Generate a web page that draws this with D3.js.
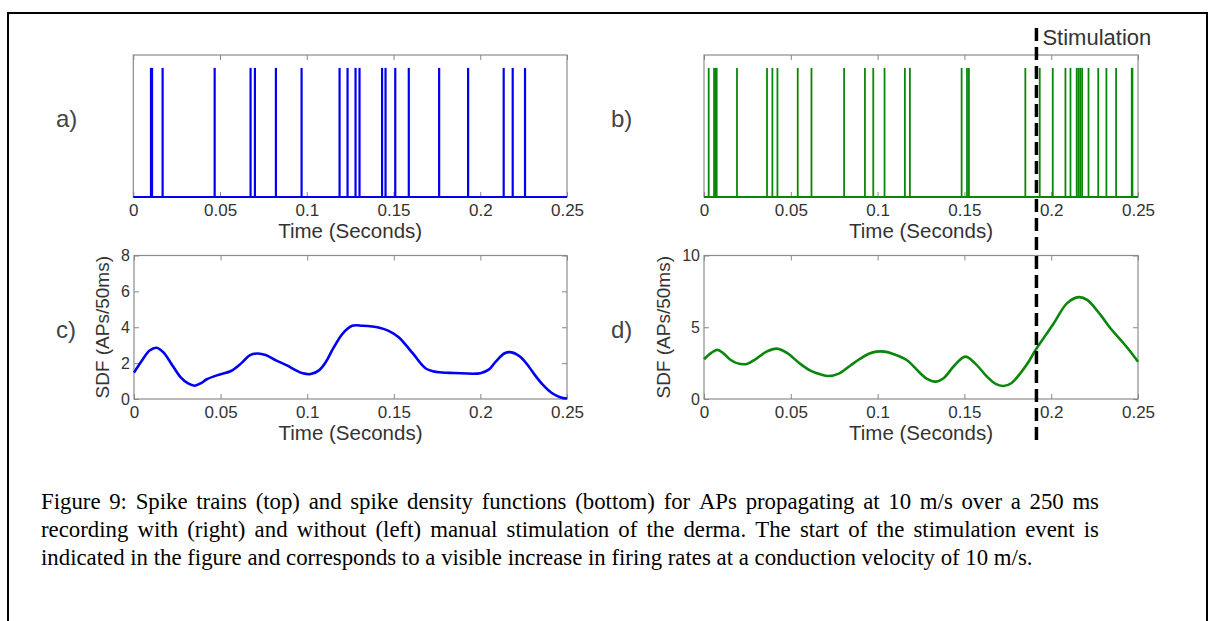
<!DOCTYPE html>
<html>
<head>
<meta charset="utf-8">
<script src="https://cdn.jsdelivr.net/npm/d3@7"></script>
<style>
	html, body { margin: 0; padding: 0; background: #fff; }
	svg { display: block; }
	.tick text { font-family: "Liberation Sans", Arial, sans-serif; fill: #333; }
	.tick line { stroke: #888; }
</style>
</head>
<body>
<svg id="fig" width="1217" height="621"></svg>
<script>
'use strict';

// spike times (seconds), read off panels a) and b)
var spikesA = [0.0102, 0.0108, 0.0169, 0.0469, 0.0676, 0.0701, 0.0822, 0.0970,
	0.1189, 0.1235, 0.1281, 0.1304, 0.1434, 0.1454, 0.1510, 0.1588,
	0.1763, 0.1930, 0.2135, 0.2187, 0.2258];

var spikesB = [0.0027, 0.0058, 0.0067, 0.0073, 0.0190, 0.0363, 0.0394, 0.0423,
	0.0540, 0.0619, 0.0807, 0.0927, 0.0975, 0.1040, 0.1157, 0.1186,
	0.1484, 0.1515, 0.1526, 0.1851, 0.1934, 0.2009, 0.2082, 0.2111,
	0.2147, 0.2157, 0.2167, 0.2178, 0.2215, 0.2271, 0.2318, 0.2374,
	0.2464, 0.2468];

// spike density functions, panels c) and d)
var sdfTimeC = [0, 0.005, 0.009, 0.013, 0.017, 0.022, 0.027, 0.031, 0.035, 0.039,
	0.042, 0.0495, 0.056, 0.062, 0.067, 0.0716, 0.076, 0.082, 0.088, 0.0935,
	0.0975, 0.102, 0.107, 0.111, 0.115, 0.1205, 0.126, 0.132, 0.1417, 0.147,
	0.153, 0.157, 0.161, 0.1685, 0.175, 0.185, 0.2, 0.205, 0.209, 0.214,
	0.218, 0.223, 0.228, 0.2315, 0.236, 0.241, 0.246, 0.25];
var sdfValC = [1.47, 2.2, 2.7, 2.86, 2.6, 1.9, 1.2, 0.88, 0.74, 0.9,
	1.1, 1.37, 1.56, 2.0, 2.45, 2.54, 2.45, 2.15, 1.89, 1.6,
	1.43, 1.39, 1.61, 2.1, 2.82, 3.65, 4.08, 4.08, 3.97, 3.8,
	3.43, 3.0, 2.54, 1.7, 1.5, 1.45, 1.44, 1.65, 2.1, 2.55,
	2.6, 2.35, 1.8, 1.33, 0.8, 0.35, 0.1, 0.03];

var sdfTimeD = [0, 0.004, 0.0077, 0.011, 0.015, 0.019, 0.0246, 0.03, 0.036, 0.042,
	0.048, 0.055, 0.061, 0.067, 0.0716, 0.078, 0.084, 0.0898, 0.095, 0.0994,
	0.104, 0.109, 0.1167, 0.1246, 0.1285, 0.1332, 0.138, 0.144, 0.1505, 0.156,
	0.163, 0.168, 0.1726, 0.177, 0.1822, 0.187, 0.191, 0.1965, 0.2015, 0.2092,
	0.2159, 0.2207, 0.2284, 0.234, 0.24, 0.245, 0.25];
var sdfValD = [2.77, 3.2, 3.42, 3.2, 2.75, 2.5, 2.44, 2.8, 3.3, 3.51,
	3.2, 2.49, 2.0, 1.72, 1.6, 1.79, 2.3, 2.79, 3.15, 3.3,
	3.3, 3.14, 2.72, 1.79, 1.4, 1.21, 1.45, 2.3, 2.95, 2.5,
	1.56, 1.05, 0.91, 1.1, 1.79, 2.6, 3.42, 4.4, 5.28, 6.68,
	7.1, 6.91, 5.86, 4.95, 4.12, 3.4, 2.6];

var timeTicks  = [0, 0.05, 0.1, 0.15, 0.2, 0.25];
var sdfTicksC  = [0, 2, 4, 6, 8];
var sdfTicksD  = [0, 5, 10];
var stimTime   = 0.1915;

var captionLines = [
	'Figure 9:  Spike trains (top) and spike density functions (bottom) for APs propagating at 10 m/s over a 250 ms',
	'recording with (right) and without (left) manual stimulation of the derma. The start of the stimulation event is',
	'indicated in the figure and corresponds to a visible increase in firing rates at a conduction velocity of 10 m/s.'
];

var BLUE  = '#0000f0';
var GREEN = '#0a870a';
var BOX   = '#8c8c8c';
var SANS  = '"Liberation Sans", Arial, sans-serif';

var svg = d3.select('#fig');

// outer frame
svg.append('path')
	.attr('d', 'M8,621 V13 H1207 V621')
	.attr('fill', 'none')
	.attr('stroke', '#000')
	.attr('stroke-width', 2);

function makePanel(box, yMax) {
	var x = d3.scaleLinear().domain([0, 0.25]).range([box.x0, box.x1]);
	var y = d3.scaleLinear().domain([0, yMax]).range([box.y1, box.y0]);
	var g = svg.append('g');

	g.append('rect')
		.attr('x', box.x0).attr('y', box.y0)
		.attr('width', box.x1 - box.x0).attr('height', box.y1 - box.y0)
		.attr('fill', 'none').attr('stroke', BOX).attr('stroke-width', 1.2);

	return { x: x, y: y, g: g, box: box };
}

function timeAxes(p, labelY) {
	var fmt = function (d) { return d3.format('~g')(d); };

	p.g.append('g')
		.attr('transform', 'translate(0,' + p.box.y1 + ')')
		.call(d3.axisBottom(p.x).tickValues(timeTicks).tickSize(-5).tickPadding(7).tickFormat(fmt))
		.call(function (a) {
			a.select('.domain').remove();
			a.selectAll('text').attr('font-size', 17).attr('font-family', SANS);
		});

	p.g.append('g')
		.attr('transform', 'translate(0,' + p.box.y0 + ')')
		.call(d3.axisTop(p.x).tickValues(timeTicks).tickSize(-5).tickFormat(''))
		.call(function (a) { a.select('.domain').remove(); });

	p.g.append('text')
		.attr('x', (p.box.x0 + p.box.x1) / 2)
		.attr('y', labelY)
		.attr('text-anchor', 'middle')
		.attr('font-family', SANS)
		.attr('font-size', 20.5)
		.attr('fill', '#333')
		.text('Time (Seconds)');
}

function sdfAxes(p, ticks, labelX) {
	p.g.append('g')
		.attr('transform', 'translate(' + p.box.x0 + ',0)')
		.call(d3.axisLeft(p.y).tickValues(ticks).tickSize(-5).tickPadding(4))
		.call(function (a) {
			a.select('.domain').remove();
			a.selectAll('text').attr('font-size', 16).attr('font-family', SANS);
		});

	p.g.append('g')
		.attr('transform', 'translate(' + p.box.x1 + ',0)')
		.call(d3.axisRight(p.y).tickValues(ticks).tickSize(-5).tickFormat(''))
		.call(function (a) { a.select('.domain').remove(); });

	var cy = (p.box.y0 + p.box.y1) / 2;

	p.g.append('text')
		.attr('transform', 'translate(' + labelX + ',' + cy + ') rotate(-90)')
		.attr('text-anchor', 'middle')
		.attr('font-family', SANS)
		.attr('font-size', 19)
		.attr('fill', '#333')
		.text('SDF (APs/50ms)');
}

function drawSpikes(p, times, colour, width) {
	p.g.append('line')
		.attr('x1', p.x(0)).attr('x2', p.x(0.25))
		.attr('y1', p.y(0)).attr('y2', p.y(0))
		.attr('stroke', colour).attr('stroke-width', 2);

	p.g.selectAll('.spike').data(times)
		.enter().append('line')
		.attr('class', 'spike')
		.attr('x1', function (d) { return p.x(d); })
		.attr('x2', function (d) { return p.x(d); })
		.attr('y1', p.y(0))
		.attr('y2', p.y(1))
		.attr('stroke', colour)
		.attr('stroke-width', width);
}

function drawSdf(p, ts, vs, colour) {
	var pts = ts.map(function (t, i) { return [t, vs[i]]; });
	var line = d3.line()
		.x(function (d) { return p.x(d[0]); })
		.y(function (d) { return p.y(d[1]); })
		.curve(d3.curveCatmullRom.alpha(0.5));

	p.g.append('path')
		.datum(pts)
		.attr('d', line)
		.attr('fill', 'none')
		.attr('stroke', colour)
		.attr('stroke-width', 2.6)
		.attr('stroke-linejoin', 'round');
}

function panelLabel(text, x, y) {
	svg.append('text')
		.attr('x', x).attr('y', y)
		.attr('font-family', SANS)
		.attr('font-size', 24)
		.attr('fill', '#444')
		.text(text);
}

var pA = makePanel({ x0: 133.3, x1: 567, y0: 55, y1: 197 }, 1.1);
var pB = makePanel({ x0: 704, x1: 1138, y0: 55, y1: 197 }, 1.1);
var pC = makePanel({ x0: 134, x1: 567, y0: 255.5, y1: 399 }, 8);
var pD = makePanel({ x0: 704, x1: 1138, y0: 255.5, y1: 399 }, 10);

timeAxes(pA, 238);
timeAxes(pB, 238);
timeAxes(pC, 440);
timeAxes(pD, 440);

sdfAxes(pC, sdfTicksC, 109);
sdfAxes(pD, sdfTicksD, 670);

drawSpikes(pA, spikesA, BLUE, 2.2);
drawSpikes(pB, spikesB, GREEN, 1.8);

drawSdf(pC, sdfTimeC, sdfValC, BLUE);
drawSdf(pD, sdfTimeD, sdfValD, GREEN);

panelLabel('a)', 56, 127);
panelLabel('b)', 611, 127);
panelLabel('c)', 56, 338);
panelLabel('d)', 611, 338);

// stimulation onset marker, spans panels b) and d)
svg.append('line')
	.attr('x1', pB.x(stimTime)).attr('x2', pB.x(stimTime))
	.attr('y1', 28).attr('y2', 441)
	.attr('stroke', '#000')
	.attr('stroke-width', 3.5)
	.attr('stroke-dasharray', '13,6');

svg.append('text')
	.attr('x', pB.x(stimTime) + 6)
	.attr('y', 45)
	.attr('font-family', SANS)
	.attr('font-size', 22)
	.attr('fill', '#333')
	.text('Stimulation');

// caption, first two lines justified
var capLeft  = 41;
var capRight = 1099;

captionLines.forEach(function (line, li) {
	var words = line.split(/\s+/);
	var y = 509 + li * 28;
	var nodes = words.map(function (w) {
		return svg.append('text')
			.attr('y', y)
			.attr('font-family', '"Liberation Serif", "Times New Roman", serif')
			.attr('font-size', 22.8)
			.attr('fill', '#000')
			.text(w);
	});
	var widths = nodes.map(function (n) { return n.node().getComputedTextLength(); });
	var total = d3.sum(widths);
	var gap = li < 2 ? (capRight - capLeft - total) / (words.length - 1) : 5.7;
	var x = capLeft;

	nodes.forEach(function (n, i) {
		n.attr('x', x);
		x += widths[i] + gap;
	});
});
</script>
</body>
</html>
